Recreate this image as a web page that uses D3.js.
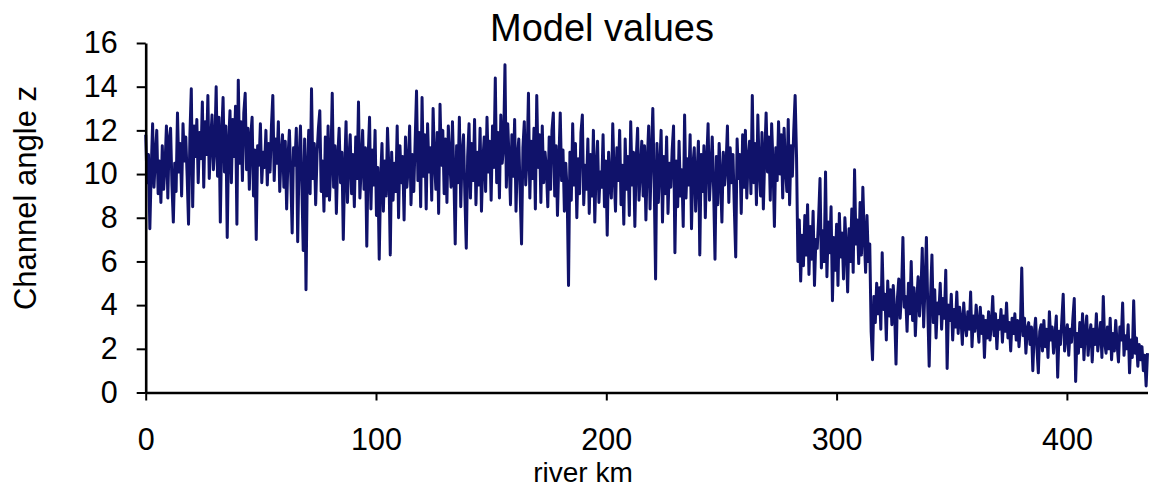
<!DOCTYPE html>
<html>
<head>
<meta charset="utf-8">
<script src="https://cdn.jsdelivr.net/npm/d3@7"></script>
<style>
  html, body { margin: 0; padding: 0; background: #fff; }
  svg { display: block; }
  text { font-family: "Liberation Sans", Arial, sans-serif; fill: #000; }
</style>
</head>
<body>
<svg id="chart" width="1149" height="488"></svg>
<script>
// ---- data ----
const title = "Model values";
const xLabel = "river km";
const yLabel = "Channel angle z";
const xTicks = [0, 100, 200, 300, 400];
const yTicks = [0, 2, 4, 6, 8, 10, 12, 14, 16];
const kmStart = 0;
const kmStep = 0.6;   // spacing of the river-km stations
const channelAngle = [
  11.8, 9.6, 10.9, 7.5, 10.2, 12.3, 9.4, 10.8, 12.0, 9.1,
  10.6, 8.7, 11.3, 9.3, 10.4, 12.2, 8.9, 11.6, 12.1, 9.5,
  7.8, 10.5, 9.2, 12.8, 10.1, 11.4, 9.0, 12.3, 10.6, 11.7,
  9.9, 7.7, 11.8, 13.9, 8.5, 12.2, 10.8, 12.5, 9.6, 11.9,
  10.7, 13.3, 9.4, 12.4, 10.9, 13.6, 9.8, 11.5, 12.7, 10.2,
  11.2, 14.0, 9.9, 12.6, 7.8, 11.8, 13.5, 10.1, 12.2, 7.1,
  11.4, 12.9, 9.6, 12.5, 10.8, 13.1, 7.7, 14.3, 10.5, 12.4,
  9.7, 12.8, 13.7, 10.2, 12.1, 9.3, 11.7, 12.6, 9.0, 11.1,
  7.0, 11.3, 10.4, 12.3, 9.6, 11.0, 10.3, 12.0, 9.5, 11.4,
  10.1, 12.2, 13.6, 9.7, 11.6, 10.5, 12.4, 9.2, 10.9, 11.8,
  9.4, 11.5, 8.4, 10.8, 12.0, 9.9, 7.3, 11.2, 10.4, 12.1,
  6.9, 10.7, 12.2, 9.5, 6.5, 11.6, 4.7, 10.3, 12.0, 9.1,
  13.9, 9.8, 11.4, 8.6, 10.9, 12.1, 12.9, 9.2, 10.6, 8.3,
  11.7, 9.0, 12.2, 8.8, 10.5, 13.7, 9.4, 11.3, 8.2, 10.8,
  12.1, 9.6, 11.0, 7.0, 10.2, 12.4, 8.7, 10.6, 11.8, 9.1,
  10.9, 8.5, 11.7, 9.8, 13.3, 8.9, 10.4, 12.0, 9.3, 11.2,
  6.7, 10.8, 12.6, 8.4, 11.1, 9.5, 12.0, 8.1, 10.3, 6.1,
  9.7, 11.4, 8.3, 10.6, 9.0, 12.1, 10.2, 6.3, 11.0, 8.8,
  10.5, 9.2, 12.2, 8.0, 11.3, 9.6, 10.8, 7.9, 11.7, 9.4,
  10.3, 12.2, 8.6, 10.9, 9.2, 11.5, 13.8, 9.7, 11.9, 8.5,
  13.5, 9.9, 11.8, 8.4, 12.3, 10.1, 11.2, 8.8, 13.0, 10.6,
  9.3, 11.9, 8.2, 13.2, 10.4, 12.0, 9.1, 11.6, 8.7, 12.2,
  10.7, 9.4, 12.4, 10.0, 6.8, 11.3, 9.6, 12.6, 8.5, 10.9,
  11.8, 9.0, 6.6, 10.8, 12.3, 8.9, 11.4, 9.7, 12.5, 8.6,
  11.0, 9.5, 12.1, 8.3, 10.6, 11.7, 9.2, 12.6, 10.1, 11.5,
  8.8, 12.2, 10.3, 14.4, 9.6, 11.9, 8.9, 12.7, 10.5, 11.3,
  15.0, 9.4, 12.3, 10.7, 8.6, 11.8, 9.9, 12.5, 8.3, 10.8,
  11.6, 9.1, 6.8, 11.2, 12.4, 9.5, 10.7, 13.7, 8.9, 11.5,
  9.8, 12.1, 8.4, 13.6, 10.3, 11.8, 8.7, 12.2, 9.6, 11.0,
  10.2, 8.5, 11.7, 9.3, 12.0, 12.8, 9.0, 11.3, 8.1, 10.6,
  12.8, 9.7, 11.1, 8.3, 10.5, 9.2, 4.9, 11.0, 8.8, 12.3,
  9.5, 11.4, 8.0, 10.7, 9.1, 11.9, 12.7, 8.6, 10.4, 9.3,
  11.6, 8.2, 10.9, 9.0, 12.0, 7.8, 10.3, 11.5, 8.7, 10.1,
  9.4, 11.8, 8.5, 10.6, 7.2, 11.0, 9.6, 8.9, 12.3, 10.0,
  8.3, 11.2, 9.7, 12.0, 8.6, 10.4, 7.7, 11.6, 9.3, 10.8,
  8.1, 12.4, 9.5, 11.0, 7.6, 10.7, 12.1, 8.8, 10.2, 11.5,
  9.0, 11.3, 7.9, 10.6, 12.2, 8.4, 10.9, 13.0, 9.6, 5.2,
  11.4, 8.7, 10.3, 12.0, 7.8, 10.8, 9.1, 11.7, 8.2, 10.5,
  9.4, 11.1, 12.2, 6.4, 10.6, 8.5, 11.5, 9.0, 10.2, 7.6,
  12.7, 8.9, 10.7, 9.5, 11.8, 7.5, 10.4, 11.2, 8.3, 10.0,
  11.5, 6.3, 10.9, 9.2, 11.3, 8.0, 10.6, 12.3, 8.8, 10.1,
  11.7, 9.3, 6.1, 10.8, 8.6, 11.4, 9.9, 7.8, 11.0, 9.5,
  10.4, 12.2, 8.7, 11.2, 9.6, 10.9, 8.4, 6.2, 11.6, 9.8,
  10.9, 8.2, 11.8, 9.4, 12.0, 8.9, 10.7, 11.5, 9.1, 13.6,
  9.6, 11.4, 8.6, 12.7, 10.2, 9.0, 11.9, 8.4, 10.8, 12.8,
  10.1, 11.7, 8.8, 12.3, 10.4, 7.6, 11.2, 9.7, 12.4, 10.0,
  11.8, 8.9, 12.1, 10.3, 9.2, 12.5, 8.6, 11.3, 9.9, 12.0,
  13.6, 10.8, 6.0, 7.9, 5.1, 7.2, 5.8, 8.1, 6.3, 8.6,
  5.4, 7.6, 6.1, 8.3, 4.9, 7.0, 6.6, 8.0, 9.8, 5.7,
  7.4, 6.0, 10.1, 5.3, 7.8, 6.4, 8.5, 4.2, 7.1, 5.6,
  7.7, 4.9, 8.2, 6.2, 7.3, 5.2, 8.0, 6.7, 4.6, 7.5,
  6.0, 8.4, 5.5, 10.2, 6.8, 7.9, 5.9, 8.7, 6.3, 9.4,
  7.2, 5.5, 8.1, 6.0, 6.8, 2.8, 1.5, 4.4, 3.2, 5.0,
  3.6, 4.8, 2.9, 6.4, 3.8, 4.5, 2.4, 5.1, 3.5, 4.7,
  3.1, 4.9, 3.7, 1.3, 4.3, 5.2, 3.4, 4.6, 7.1, 3.9,
  4.4, 2.8, 5.0, 3.6, 6.0, 3.3, 4.8, 2.6, 4.2, 5.3,
  3.5, 4.6, 6.6, 3.0, 4.9, 7.1, 3.8, 1.2, 4.4, 6.3,
  3.2, 4.7, 2.5, 4.1, 3.6, 5.0, 2.9, 4.3, 3.4, 5.6,
  1.1, 4.0, 3.3, 4.5, 2.4, 3.8, 3.0, 4.6, 2.7, 3.9,
  3.4, 2.2, 4.1, 3.1, 2.6, 3.7, 2.9, 4.6, 2.1, 3.5,
  2.8, 4.0, 3.2, 2.3, 3.9, 2.7, 3.5, 1.6, 3.3, 2.5,
  3.7, 2.4, 3.1, 4.4, 2.6, 3.6, 2.0, 3.3, 2.9, 3.8,
  2.3, 3.5, 2.8, 4.1, 2.5, 3.2, 1.9, 3.4, 2.7, 3.6,
  2.4, 3.3, 2.1, 3.0, 5.7, 2.6, 3.4, 1.8, 2.9, 3.2,
  2.2, 3.0, 1.0, 2.7, 3.4, 2.0, 0.9, 2.8, 3.1, 1.9,
  3.3, 2.1, 2.9, 1.6, 3.7, 2.4, 3.0, 1.8, 2.6, 3.5,
  0.7, 2.8, 2.2, 3.3, 4.5, 1.9, 2.6, 3.1, 1.7, 2.9,
  2.3, 3.4, 4.3, 0.5, 2.7, 1.8, 3.2, 2.1, 3.6, 1.5,
  2.8, 3.5, 1.7, 2.6, 3.1, 1.4, 2.9, 2.2, 3.6, 1.9,
  2.5, 3.2, 1.6, 4.4, 2.3, 1.8, 3.0, 2.0, 3.4, 1.5,
  2.7, 1.9, 3.3, 2.2, 1.4, 3.0, 2.4, 4.1, 1.7, 2.6,
  2.0, 3.1, 0.9, 2.4, 1.6, 4.2, 1.8, 2.5, 1.2, 2.2,
  1.5, 2.1, 1.0, 1.7, 0.3, 1.8
];

// ---- layout ----
const svg = d3.select("#chart");
const plot = { left: 145.7, right: 1147.5, top: 43, bottom: 392.5 };
const lineColor = "#10126a";

const x = d3.scaleLinear().domain([0, 435]).range([plot.left, plot.right]);
const y = d3.scaleLinear().domain([0, 16]).range([plot.bottom, plot.top]);

const points = channelAngle.map((v, i) => ({ km: kmStart + i * kmStep, v }));

// line
svg.append("path")
  .datum(points)
  .attr("fill", "none")
  .attr("stroke", lineColor)
  .attr("stroke-width", 3)
  .attr("stroke-linejoin", "round")
  .attr("d", d3.line().x(d => x(d.km)).y(d => y(d.v)));

// axes
const yAxis = svg.append("g")
  .attr("transform", `translate(${plot.left},0)`)
  .call(d3.axisLeft(y).tickValues(yTicks).tickFormat(d3.format("d")).tickSize(9).tickSizeOuter(0).tickPadding(19));
const xAxis = svg.append("g")
  .attr("transform", `translate(0,${plot.bottom})`)
  .call(d3.axisBottom(x).tickValues(xTicks).tickFormat(d3.format("d")).tickSize(8).tickSizeOuter(0).tickPadding(28));

[yAxis, xAxis].forEach(g => {
  g.select(".domain").attr("stroke", "#000").attr("stroke-width", 2.6);
  g.selectAll(".tick line").attr("stroke", "#000").attr("stroke-width", 2);
  g.selectAll(".tick text").attr("font-size", 30.5).attr("font-family", "Liberation Sans, Arial, sans-serif").attr("fill", "#000");
});

// titles
svg.append("text")
  .attr("x", 602).attr("y", 41)
  .attr("text-anchor", "middle")
  .attr("font-size", 38)
  .text(title);

svg.append("text")
  .attr("x", 583).attr("y", 482)
  .attr("text-anchor", "middle")
  .attr("font-size", 28)
  .text(xLabel);

svg.append("text")
  .attr("transform", "translate(36,198) rotate(-90)")
  .attr("text-anchor", "middle")
  .attr("font-size", 31)
  .text(yLabel);
</script>
</body>
</html>
